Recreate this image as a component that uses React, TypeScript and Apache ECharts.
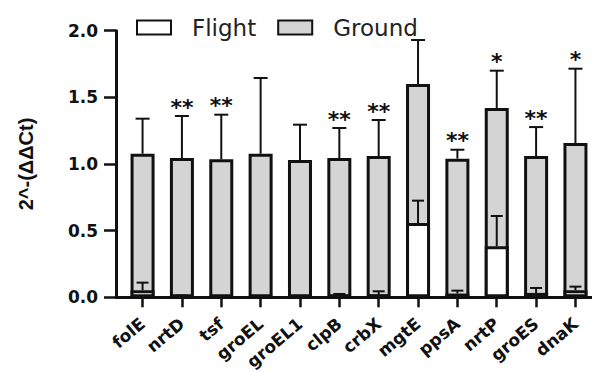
import React, { useEffect, useRef } from "react";
import * as echarts from "echarts";

const categories = ["folE", "nrtD", "tsf", "groEL", "groEL1", "clpB", "crbX", "mgtE", "ppsA", "nrtP", "groES", "dnaK"];
const groundMean = [1.077, 1.045, 1.035, 1.077, 1.03, 1.045, 1.06, 1.6, 1.04, 1.42, 1.06, 1.157];
const groundSD = [0.263, 0.315, 0.335, 0.568, 0.265, 0.225, 0.27, 0.33, 0.067, 0.28, 0.217, 0.558];
const flightMean = [0.053, 0.01, 0.005, 0.003, 0.008, 0.015, 0.02, 0.557, 0.028, 0.383, 0.033, 0.053];
const flightSD = [0.057, 0.003, 0.002, 0.001, 0.002, 0.01, 0.025, 0.168, 0.022, 0.227, 0.037, 0.027];
const significance = ["", "**", "**", "", "", "**", "**", "", "**", "*", "**", "*"];
const yTicks = [0, 0.5, 1.0, 1.5, 2.0];

const FONT = "'Liberation Sans', Arial, sans-serif";
const WIDE = "'DejaVu Sans', sans-serif";
const catIndex = categories.map((_, i) => i);

function errorSeries(name: string, means: number[], sds: number[], capHalf: number, z: number) {
  return {
    type: "custom",
    name: name + " err",
    itemStyle: { color: "#111" },
    data: means.map((m, i) => [i, m, m + sds[i]]),
    renderItem: (params: any, api: any) => {
      const base = api.coord([api.value(0), api.value(1)]);
      const top = api.coord([api.value(0), api.value(2)]);
      const style = { stroke: "#111", lineWidth: 2 };
      return {
        type: "group",
        children: [
          { type: "line", shape: { x1: base[0], y1: base[1], x2: top[0], y2: top[1] }, style },
          { type: "line", shape: { x1: top[0] - capHalf, y1: top[1], x2: top[0] + capHalf, y2: top[1] }, style },
        ],
      };
    },
    z,
  };
}

export default function App() {
  const ref = useRef<HTMLDivElement>(null);
  useEffect(() => {
    if (!ref.current) return;
    const chart = echarts.init(ref.current, undefined, { renderer: "svg" });
    const option: any = {
      animation: false,
      backgroundColor: "#fff",
      textStyle: { fontFamily: FONT },
      grid: { left: 101, right: 5, top: 22.7, bottom: 82.7, containLabel: false },
      legend: {
        data: ["Flight", "Ground"],
        left: 128,
        top: 8,
        padding: 0,
        itemWidth: 34,
        itemHeight: 14,
        itemGap: 21,
        icon: "rect",
        textStyle: { fontSize: 23, color: "#222", fontFamily: WIDE, padding: [0, 0, 0, 16] },
      },
      xAxis: {
        type: "value",
        min: -0.675,
        max: 11.7,
        splitLine: { show: false },
        axisLine: { show: true, onZero: false, lineStyle: { color: "#111", width: 3 } },
        axisTick: { show: true, customValues: catIndex, length: 10, lineStyle: { color: "#111", width: 2.5 } },
        axisLabel: {
          customValues: catIndex,
          formatter: (v: number) => categories[Math.round(v)] ?? "",
          rotate: 40,
          margin: 24,
          fontSize: 17,
          fontWeight: "bold",
          color: "#111",
          fontFamily: WIDE,
        },
      },
      yAxis: {
        type: "value",
        min: 0,
        max: 2,
        interval: 0.5,
        name: "2^-(ΔΔCt)",
        nameLocation: "middle",
        nameGap: 80,
        nameTextStyle: { fontSize: 20, fontWeight: "bold", color: "#111", fontFamily: FONT },
        axisLine: { show: true, onZero: false, lineStyle: { color: "#111", width: 3 } },
        axisTick: { show: true, length: 12, lineStyle: { color: "#111", width: 2.5 } },
        axisLabel: {
          fontSize: 17,
          fontWeight: "bold",
          color: "#111",
          margin: 18,
          fontFamily: WIDE,
          formatter: (v: number) => (yTicks.includes(v) ? v.toFixed(1) : ""),
        },
        splitLine: { show: false },
      },
      series: [
        {
          type: "bar",
          name: "Ground",
          data: groundMean.map((m, i) => [i, m]),
          barWidth: 24,
          barGap: "-100%",
          itemStyle: { color: "#d4d4d4", borderColor: "#111", borderWidth: 3 },
          z: 2,
        },
        errorSeries("Ground", groundMean, groundSD, 7, 3),
        {
          type: "bar",
          name: "Flight",
          data: flightMean.map((m, i) => [i, m]),
          barWidth: 24,
          barGap: "-100%",
          itemStyle: { color: "#ffffff", borderColor: "#111", borderWidth: 3 },
          z: 4,
        },
        errorSeries("Flight", flightMean, flightSD, 6, 5),
        {
          type: "custom",
          name: "sig",
          itemStyle: { color: "#111" },
          data: groundMean.map((m, i) => [i, m + groundSD[i]]),
          renderItem: (params: any, api: any) => {
            const idx = params.dataIndex;
            const p = api.coord([api.value(0), api.value(1)]);
            return {
              type: "text",
              x: p[0],
              y: p[1] + 2,
              style: {
                text: significance[idx],
                fill: "#111",
                fontSize: 22,
                fontWeight: "bold",
                fontFamily: WIDE,
                align: "center",
                verticalAlign: "bottom",
              },
            };
          },
          z: 6,
        },
      ],
    };
    chart.setOption(option);
    return () => chart.dispose();
  }, []);
  return <div ref={ref} style={{ width: 600, height: 372 }} />;
}
